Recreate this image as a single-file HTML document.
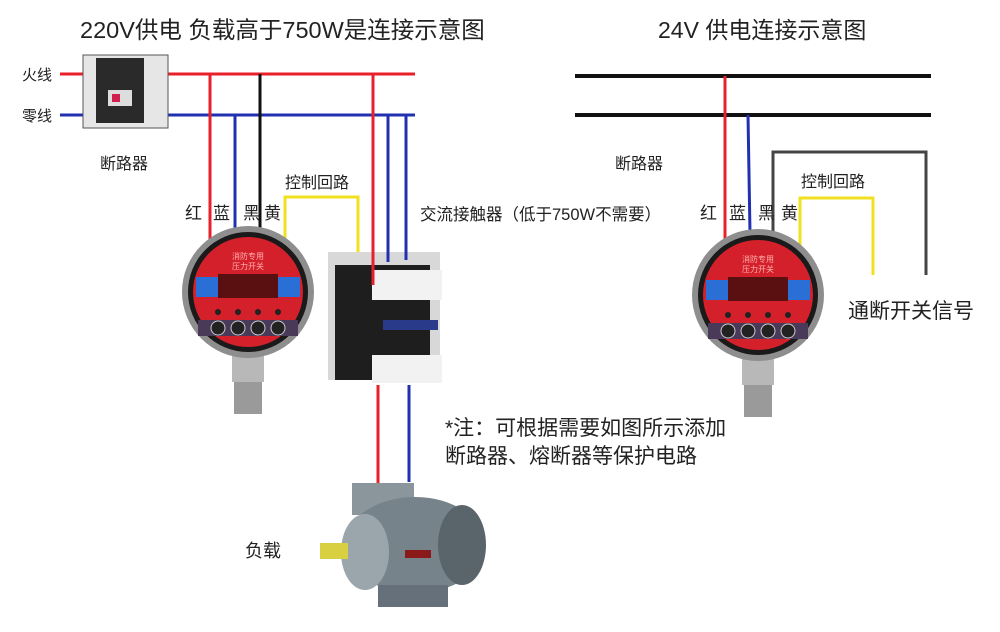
<!DOCTYPE html>
<html><head><meta charset="utf-8"><style>
html,body{margin:0;padding:0;background:#fff;}
svg{display:block;font-family:"Liberation Sans","Noto Sans CJK SC",sans-serif;}
</style></head><body>
<svg width="1000" height="632" viewBox="0 0 1000 632" xmlns="http://www.w3.org/2000/svg">
<defs>
<g id="gauge">
  <rect x="-16" y="50" width="32" height="40" fill="#b8b8b8"/>
  <rect x="-14" y="90" width="28" height="32" fill="#9a9a9a"/>
  <circle r="66" fill="#8e8e8e"/>
  <circle r="60" fill="#1a1a1a"/>
  <circle r="55" fill="#d4202a"/>
  <text x="0" y="-33" font-size="8" fill="#ffb0b0" text-anchor="middle">消防专用</text>
  <text x="0" y="-23" font-size="8" fill="#ffb0b0" text-anchor="middle">压力开关</text>
  <rect x="-52" y="-15" width="22" height="20" fill="#2a6fd6"/>
  <rect x="30" y="-15" width="22" height="20" fill="#2a6fd6"/>
  <rect x="-30" y="-18" width="60" height="24" fill="#5a1010"/>
  <circle cx="-30" cy="20" r="3" fill="#222"/><circle cx="-10" cy="20" r="3" fill="#222"/>
  <circle cx="10" cy="20" r="3" fill="#222"/><circle cx="30" cy="20" r="3" fill="#222"/>
  <rect x="-50" y="28" width="100" height="16" fill="#4a3a5a"/>
  <circle cx="-30" cy="36" r="7" fill="#222" stroke="#ccc"/><circle cx="-10" cy="36" r="7" fill="#222" stroke="#ccc"/>
  <circle cx="10" cy="36" r="7" fill="#222" stroke="#ccc"/><circle cx="30" cy="36" r="7" fill="#222" stroke="#ccc"/>
</g>
</defs>
<text x="80" y="38" font-size="23.5" fill="#222">220V供电 负载高于750W是连接示意图</text>
<text x="658" y="38" font-size="23" fill="#222">24V 供电连接示意图</text>

<text x="22" y="80" font-size="15" fill="#222">火线</text>
<text x="22" y="121" font-size="15" fill="#222">零线</text>
<line x1="60" y1="74" x2="415" y2="74" stroke="#e8202a" stroke-width="3"/>
<line x1="60" y1="115" x2="415" y2="115" stroke="#2030b0" stroke-width="3"/>
<rect x="83" y="55" width="85" height="73" fill="#e6e6e6" stroke="#555"/>
<rect x="96" y="58" width="48" height="65" fill="#2a2a2a"/>
<rect x="108" y="90" width="24" height="16" fill="#ddd"/><rect x="112" y="94" width="8" height="8" fill="#d02050"/>
<text x="100" y="169" font-size="16" fill="#222">断路器</text>

<line x1="210" y1="74" x2="210" y2="240" stroke="#e8202a" stroke-width="3"/>
<line x1="235" y1="115" x2="235" y2="232" stroke="#2030b0" stroke-width="3"/>
<line x1="260" y1="74" x2="260" y2="232" stroke="#111" stroke-width="3"/>
<polyline points="285,245 285,197 358,197 358,272" fill="none" stroke="#f0e020" stroke-width="3"/>
<text x="185" y="219" font-size="17" fill="#222">红</text>
<text x="213" y="219" font-size="17" fill="#222">蓝</text>
<text x="243" y="219" font-size="17" fill="#222">黑</text>
<text x="264" y="219" font-size="17" fill="#222">黄</text>
<text x="285" y="188" font-size="16" fill="#222">控制回路</text>
<text x="420" y="220" font-size="16.5" fill="#222">交流接触器（低于750W不需要）</text>

<use href="#gauge" x="248" y="292"/>

<rect x="328" y="252" width="112" height="128" fill="#d8d8d8"/>
<rect x="335" y="265" width="95" height="115" fill="#1e1e1e"/>
<rect x="372" y="270" width="70" height="30" fill="#f2f2f2"/>
<rect x="372" y="355" width="70" height="28" fill="#f2f2f2"/>
<rect x="383" y="320" width="55" height="10" fill="#2a3a8a"/>
<line x1="373" y1="74" x2="373" y2="285" stroke="#e8202a" stroke-width="3"/>
<line x1="388" y1="115" x2="388" y2="262" stroke="#2030b0" stroke-width="3"/>
<line x1="406" y1="115" x2="406" y2="260" stroke="#2030b0" stroke-width="3"/>
<line x1="378" y1="385" x2="378" y2="485" stroke="#e8202a" stroke-width="3"/>
<line x1="409" y1="385" x2="409" y2="482" stroke="#2030b0" stroke-width="3"/>

<rect x="352" y="483" width="62" height="32" fill="#8a959c"/>
<ellipse cx="415" cy="545" rx="70" ry="48" fill="#77838b"/>
<ellipse cx="462" cy="545" rx="24" ry="40" fill="#5a646b"/>
<ellipse cx="365" cy="552" rx="24" ry="38" fill="#9aa5ac"/>
<rect x="320" y="543" width="28" height="16" fill="#d8d040"/>
<rect x="378" y="585" width="70" height="22" fill="#66707a"/>
<rect x="405" y="550" width="26" height="8" fill="#8a1a1a"/>
<text x="245" y="557" font-size="18" fill="#222">负载</text>

<text x="445" y="435" font-size="21" fill="#222">*注：可根据需要如图所示添加</text>
<text x="445" y="463" font-size="21" fill="#222">断路器、熔断器等保护电路</text>

<line x1="575" y1="76" x2="931" y2="76" stroke="#111" stroke-width="4"/>
<line x1="575" y1="115" x2="931" y2="115" stroke="#111" stroke-width="4"/>
<line x1="725" y1="76" x2="725" y2="245" stroke="#e8202a" stroke-width="3"/>
<line x1="748" y1="115" x2="750" y2="233" stroke="#2030b0" stroke-width="3"/>
<polyline points="773,235 773,152 926,152 926,275" fill="none" stroke="#444" stroke-width="3"/>
<polyline points="800,250 800,198 873,198 873,275" fill="none" stroke="#f0e020" stroke-width="3"/>
<text x="615" y="169" font-size="16" fill="#222">断路器</text>
<text x="700" y="219" font-size="17" fill="#222">红</text>
<text x="729" y="219" font-size="17" fill="#222">蓝</text>
<text x="758" y="219" font-size="17" fill="#222">黑</text>
<text x="781" y="219" font-size="17" fill="#222">黄</text>
<text x="801" y="187" font-size="16" fill="#222">控制回路</text>
<text x="848" y="318" font-size="21" fill="#222">通断开关信号</text>

<use href="#gauge" x="758" y="295"/>
</svg>
</body></html>
